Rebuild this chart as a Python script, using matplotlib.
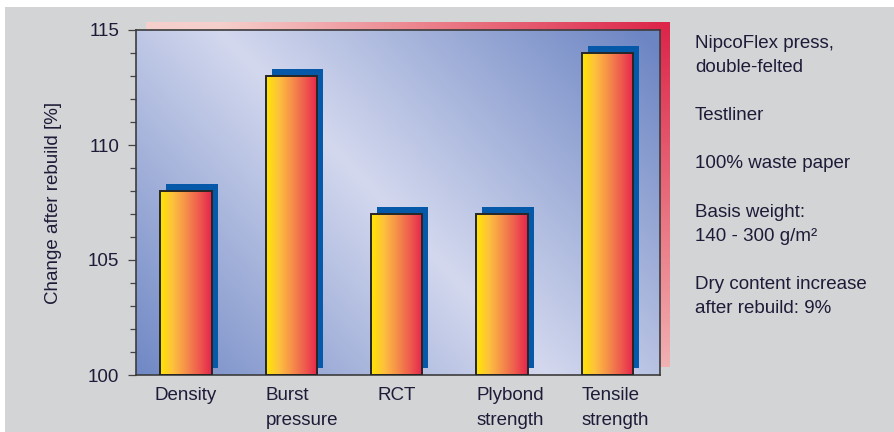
import numpy as np
import matplotlib
matplotlib.use('Agg')
import matplotlib.pyplot as plt
from matplotlib.colors import LinearSegmentedColormap
from matplotlib.patches import Rectangle
from matplotlib.ticker import MultipleLocator
from matplotlib.transforms import offset_copy, blended_transform_factory

# data
categories = ['Density', 'Burst\npressure', 'RCT', 'Plybond\nstrength', 'Tensile\nstrength']
values = [108, 113, 107, 107, 114]
baseline = 100
y_label = 'Change after rebuild [%]'
notes = ['NipcoFlex press,\ndouble-felted',
         'Testliner',
         '100% waste paper',
         'Basis weight:\n140 - 300 g/m\u00b2',
         'Dry content increase\nafter rebuild: 9%']

plt.rcParams['font.family'] = ['Liberation Sans', 'DejaVu Sans']
txt = '#1c1c38'
fs = 13.5
W, H = 895, 432

fig = plt.figure(figsize=(W / 100, H / 100), dpi=100, facecolor='white')
# grey panel with thin white border top/left
fig.add_artist(Rectangle((5 / W, 0), 1, 425 / H, transform=fig.transFigure,
                         facecolor='#d3d4d6', edgecolor='none', zorder=-10))

# axes box in pixels
L, T, R, B = 136, 30, 660, 375
pos = [L / W, 1 - B / H, (R - L) / W, (B - T) / H]
aw, ah = R - L, B - T

# red shadow frame behind the plot area
sh = fig.add_axes([pos[0] + 10 / W, pos[1] + 8.5 / H, pos[2], pos[3]], zorder=-2)
sh.axis('off')
gx, gy = np.meshgrid(np.linspace(0, 1, 300), np.linspace(0, 1, 200))
t = np.clip(np.sqrt(((1 - gx) * aw / 450) ** 2 + (gy * ah / 420) ** 2), 0, 1)
red_cmap = LinearSegmentedColormap.from_list('red', ['#dc2448', '#ea7a86', '#f5cfcb'])
sh.imshow(t, cmap=red_cmap, vmin=0, vmax=1, extent=(0, 1, 0, 1), aspect='auto',
          interpolation='bilinear', origin='upper')

# blue diagonal background
bg = fig.add_axes(pos, zorder=-1)
bg.axis('off')
X = gx * aw
Y = gy * ah
dist = (327 * Y - 345 * (X - 84)) / 475
s = np.clip(np.abs(dist) / 310, 0, 1)
blue_cmap = LinearSegmentedColormap.from_list('blue', ['#d3d8ee', '#6c85c3'])
bg.imshow(s, cmap=blue_cmap, vmin=0, vmax=1, extent=(0, 1, 0, 1), aspect='auto',
          interpolation='bilinear', origin='upper')

ax = fig.add_axes(pos)
ax.set_facecolor('none')

x = np.arange(len(values))
width = 0.485
heights = np.array(values) - baseline

# blue shadow bars
shadow_tr = offset_copy(ax.transData, fig=fig, x=6, y=7, units='dots')
ax.bar(x, heights, bottom=baseline, width=width, color='#0659a9',
       transform=shadow_tr, zorder=1)

# gradient bars
bar_cmap = LinearSegmentedColormap.from_list(
    'bar', ['#ffe600', '#fdc03e', '#f6904a', '#ee5c4e', '#e6244c'])
grad = np.linspace(0, 1, 256).reshape(1, -1)
for i, v in zip(x, values):
    ax.imshow(grad, cmap=bar_cmap, extent=(i - width / 2, i + width / 2, baseline, v),
              aspect='auto', zorder=2, interpolation='bilinear')
ax.bar(x, heights, bottom=baseline, width=width, fill=False,
       edgecolor='#262626', linewidth=1.4, zorder=3)

ax.set_xlim(-0.475, 4.5)
ax.set_ylim(100, 115)

for sp in ax.spines.values():
    sp.set_color('#3c3c3c')
    sp.set_linewidth(1.2)

ax.set_xticks([])
ax.yaxis.set_major_locator(MultipleLocator(5))
ax.yaxis.set_minor_locator(MultipleLocator(1))
ax.tick_params(axis='y', which='major', direction='out', length=6, width=0.9,
               color='#444444', labelsize=fs, labelcolor=txt, pad=6)
ax.tick_params(axis='y', which='minor', direction='out', length=4, width=0.9,
               color='#444444')

ax.text(-0.1575, 0.5, y_label, rotation=90, ha='center', va='center',
        transform=ax.transAxes, fontsize=fs, color=txt)

# category labels under the bars
lab_tr = offset_copy(blended_transform_factory(ax.transData, ax.transAxes),
                     fig=fig, y=-12, units='dots')
for i, lbl in zip(x, categories):
    if '\n' in lbl:
        ax.text(i - width / 2, 0, lbl, ha='left', va='top', transform=lab_tr,
                fontsize=fs, color=txt, linespacing=1.58)
    else:
        ax.text(i, 0, lbl, ha='center', va='top', transform=lab_tr,
                fontsize=fs, color=txt)

# notes on the right
fig.text(695 / W, 1 - 34.5 / H, '\n\n'.join(notes), ha='left', va='top',
         fontsize=fs, color=txt, linespacing=1.55)

fig.savefig('out.png', dpi=100, facecolor=fig.get_facecolor())
